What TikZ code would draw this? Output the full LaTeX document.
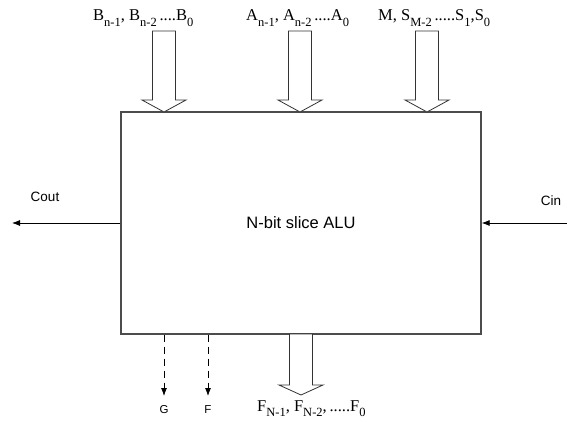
\documentclass[tikz,border=0pt]{standalone}
\usepackage{fontspec}
\setmainfont{Liberation Serif}
\setsansfont{Liberation Sans}
\usepackage{tikz}
\usetikzlibrary{arrows.meta}
\newcommand{\lo}[1]{\raisebox{-0.32em}{\fontsize{12.5}{12.5}\selectfont #1}}

\begin{document}
\begin{tikzpicture}[x=1pt, y=-1pt,
    alu/.style={draw=black!70, line width=1.3pt, minimum width=360pt, minimum height=222pt, font=\sffamily\fontsize{16.5}{16.5}\selectfont},
    bus/.style={draw=black!80, line width=0.8pt, fill=white},
    sig/.style={-{Latex[length=8pt,width=6pt]}, line width=0.8pt},
    ctl/.style={sig, dashed, dash pattern=on 7pt off 5pt},
    lbl/.style={font=\sffamily\fontsize{13.5}{13.5}\selectfont, inner sep=0pt},
    bits/.style={font=\fontsize{16.5}{16.5}\selectfont, inner sep=0pt, anchor=base west}
]
\useasboundingbox (0,0) rectangle (567,422);

% Nodes
\node[alu] (alu) at (301,223) {N-bit slice ALU};

\coordinate (btip) at (164,112);
\coordinate (atip) at (300,112);
\coordinate (mtip) at (427,112);
\coordinate (ftip) at (301,395);

\coordinate (cout) at (12,223);
\coordinate (cin) at (567,223);
\coordinate (gend) at (164,396);
\coordinate (fend) at (208,396);

\node[bits] (bbus) at (93,21) {B\lo{n-1}, B\lo{n-2}\,....B\lo{0}};
\node[bits] (abus) at (246,21) {A\lo{n-1}, A\lo{n-2}\,....A\lo{0}};
\node[bits] (mbus) at (378,21) {M, S\lo{M-2}\,.....S\lo{1},S\lo{0}};
\node[bits] (fbus) at (257,411) {F\lo{N-1}, F\lo{N-2},\,.....F\lo{0}};

\node[lbl] (coutl) at (45,197) {Cout};
\node[lbl] (cinl) at (551,201) {Cin};
\node[lbl, font=\sffamily\fontsize{11.5}{11.5}\selectfont] (gl) at (164,410) {G};
\node[lbl, font=\sffamily\fontsize{11.5}{11.5}\selectfont] (fl) at (208,410) {F};

% Bus arrows
\draw[bus] (btip) -- ++(-22,-12) -- ++(10.5,0) -- ++(0,-69) -- ++(23,0) -- ++(0,69) -- ++(10.5,0) -- cycle;
\draw[bus] (atip) -- ++(-22,-12) -- ++(10.5,0) -- ++(0,-69) -- ++(23,0) -- ++(0,69) -- ++(10.5,0) -- cycle;
\draw[bus] (mtip) -- ++(-22,-12) -- ++(10.5,0) -- ++(0,-69) -- ++(23,0) -- ++(0,69) -- ++(10.5,0) -- cycle;
\draw[bus] (ftip) -- ++(-22,-10) -- ++(10.5,0) -- ++(0,-51) -- ++(23,0) -- ++(0,51) -- ++(10.5,0) -- cycle;

% Signals
\draw[sig] (alu.west) -- (cout);
\draw[sig] (cin) -- (alu.east);
\draw[ctl] (alu.south -| gend) -- (gend);
\draw[ctl] (alu.south -| fend) -- (fend);

\end{tikzpicture}
\end{document}
